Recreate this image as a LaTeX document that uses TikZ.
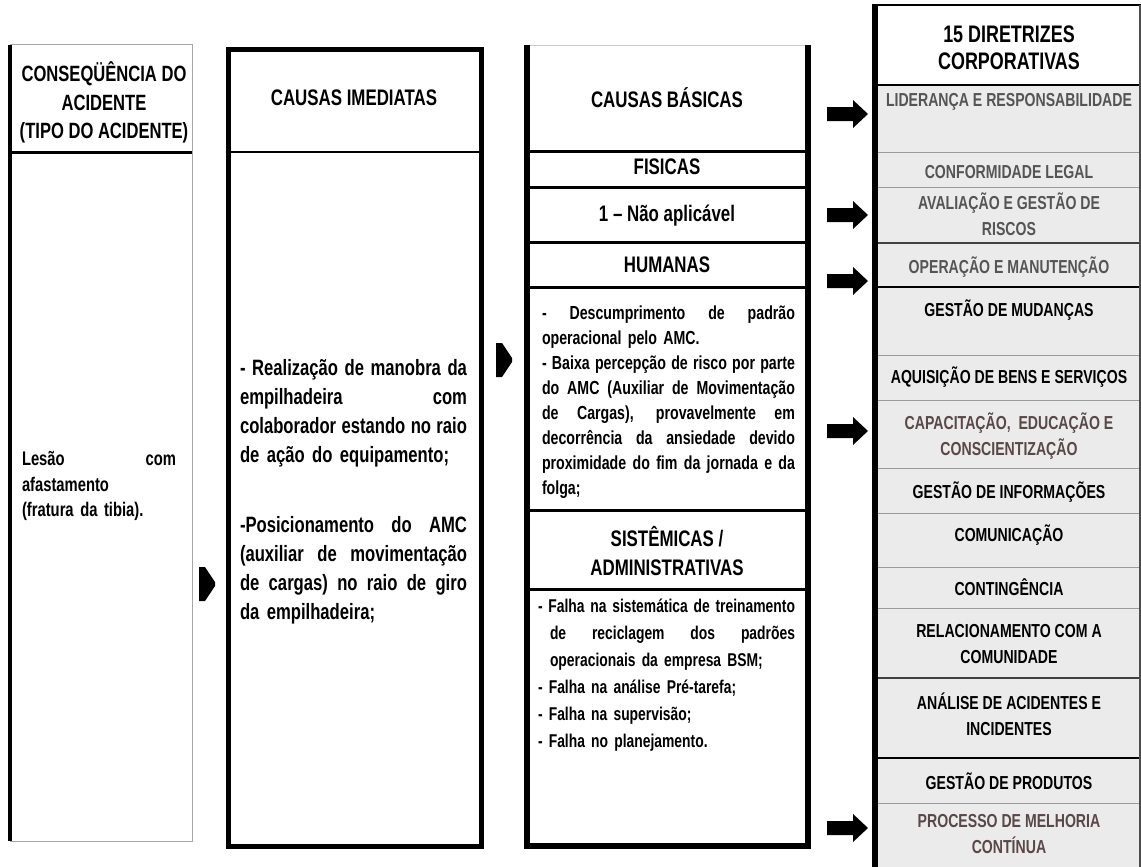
\documentclass[tikz,border=0pt]{standalone}
\usepackage{fontspec}
\setmainfont{Liberation Sans}[FakeStretch=0.75]
\definecolor{rowfill}{HTML}{EBEBEB}
\definecolor{gtext}{HTML}{555555}
\definecolor{rtext}{HTML}{5A4848}
\definecolor{divgray}{HTML}{9A9A9A}
\newcommand\st{\rule[-0.134em]{0pt}{0.85em}}
% justified line of a given width (spaces stretch equally)
\newcommand\jsp{\spaceskip=\fontdimen2\font plus 1fil minus 0.08em\relax
  \xspaceskip=\fontdimen2\font plus 1fil minus 0.08em\relax}
\newcommand\jl[2]{\leavevmode\hbox to #1{\jsp #2}}
\newcommand\jli[2]{\leavevmode\hbox to #1{\jsp\hskip 12pt #2}}
\begin{document}
\begin{tikzpicture}[x=1pt,y=-1pt,
  hd/.style={inner sep=0pt, align=center, font=\bfseries\fontsize{22.5}{28.5}\selectfont},
  rw/.style={inner sep=0pt, align=center, font=\bfseries\fontsize{18.8}{26}\selectfont},
  bd/.style={inner sep=0pt, align=left, text width=#1, font=\bfseries\fontsize{18.9}{25}\selectfont},
  bigarrow/.pic={\fill[black] (-41,-7) -- (-15,-7) -- (-15,-14) -- (0,0) -- (-15,14) -- (-15,7) -- (-41,7) -- cycle;},
  smallarrow/.pic={\fill[black] (-16,-17) -- (-10,-17) -- (0,-2) -- (0,2) -- (-10,17) -- (-16,17) -- cycle;},
  thin div/.style={divgray, line width=1pt},
  dark div/.style={black!75, line width=1.6pt}]
\useasboundingbox (0,0) rectangle (1141,867);
\fill[white] (0,0) rectangle (1141,867);

% ---------- column 1 ----------
\draw[gray!70, line width=1pt] (10,45) rectangle (192,841);
\draw[line width=4pt] (10,45) -- (10,841);
\draw[line width=3pt] (10,152) -- (192,152);
\node[hd, font=\bfseries\fontsize{22.1}{28.5}\selectfont] (c1h) at (104,102.5) {\st CONSEQÜÊNCIA DO\\\st ACIDENTE\\\st (TIPO DO ACIDENTE)};
\node[bd=154pt, font=\bfseries\fontsize{19.7}{25.5}\selectfont] (c1b) at (99,486) {\jl{154pt}{Lesão com}\\afastamento\\(fratura da tibia).};

% ---------- column 2 ----------
\draw[line width=5pt] (228,49.5) rectangle (481.5,846.5);
\draw[line width=2.5pt] (228,152) -- (481.5,152);
\node[hd] (c2h) at (354,99) {\st CAUSAS IMEDIATAS};
\node[bd=227pt, font=\bfseries\fontsize{22.2}{29}\selectfont] (c2b) at (353.5,491.5)
 {\jl{227pt}{- Realização de manobra da}\\
  \jl{227pt}{empilhadeira com}\\
  \jl{227pt}{colaborador estando no raio}\\
  de ação do equipamento;\\[41pt]
  \jl{227pt}{-Posicionamento do AMC}\\
  \jl{227pt}{(auxiliar de movimentação}\\
  \jl{227pt}{de cargas) no raio de giro}\\
  da empilhadeira;};

% ---------- column 3 ----------
\draw[gray!40, line width=0.8pt] (527,45) -- (807.5,45);
\draw[line width=6pt] (527,45) -- (527,846) -- (807.5,846) -- (807.5,45);
\foreach \yy in {151,187,242,287,510,589}
  \draw[line width=3pt] (527,\yy) -- (807.5,\yy);
\node[hd] (c3h) at (667,99) {\st CAUSAS BÁSICAS};
\node[hd] (fis) at (667,168) {\st FISICAS};
\node[hd] (nap) at (667,216) {\st 1 – Não aplicável};
\node[hd] (hum) at (667,266) {\st HUMANAS};
\node[bd=253pt] (humb) at (668.5,402)
 {\jl{253pt}{- Descumprimento de padrão}\\
  operacional pelo AMC.\\
  \jl{253pt}{- Baixa percepção de risco por parte}\\
  \jl{253pt}{do AMC (Auxiliar de Movimentação}\\
  \jl{253pt}{de Cargas), provavelmente em}\\
  \jl{253pt}{decorrência da ansiedade devido}\\
  \jl{253pt}{proximidade do fim da jornada e da}\\
  folga;};
\node[hd] (sis) at (667,552.5) {\st SISTÊMICAS /\\\st ADMINISTRATIVAS};
\node[bd=257pt, font=\bfseries\fontsize{18.5}{27}\selectfont] (sisb) at (666.5,675.5)
 {\jl{257pt}{- Falha na sistemática de treinamento}\\
  \jli{257pt}{de reciclagem dos padrões}\\
  \hspace*{12pt}operacionais da empresa BSM;\\
  - Falha na análise Pré-tarefa;\\
  - Falha na supervisão;\\
  - Falha no planejamento.};

% ---------- column 4 ----------
\fill[rowfill] (878,85) rectangle (1140,867);
\foreach \yy in {152,187,355,400,468,513,567,608,803}
  \draw[thin div] (878,\yy) -- (1140,\yy);
\foreach \yy in {243,678}
  \draw[dark div] (878,\yy) -- (1140,\yy);
\draw[black, line width=2.2pt] (878,287) -- (1140,287);
\draw[black, line width=2.2pt] (878,758) -- (1140,758);
\draw[black, line width=2.5pt] (878,85) -- (1140,85);
\draw[line width=2pt] (875,5) -- (1141,5);
\draw[black!70, line width=1.2pt] (1140,5) -- (1140,867);
\draw[line width=6pt] (875,4) -- (875,867);

\node[hd, font=\bfseries\fontsize{23.9}{27}\selectfont] (dh) at (1009,49) {\st 15 DIRETRIZES\\\st CORPORATIVAS};
\node[rw, text=gtext] (d1) at (1009,102) {\st LIDERANÇA E RESPONSABILIDADE};
\node[rw, text=gtext] (d2) at (1009,173) {\st CONFORMIDADE LEGAL};
\node[rw, text=gtext] (d3) at (1009,215.5) {\st AVALIAÇÃO E GESTÃO DE\\\st RISCOS};
\node[rw, text=gtext] (d4) at (1009,267) {\st OPERAÇÃO E MANUTENÇÃO};
\node[rw] (d5) at (1009,310) {\st GESTÃO DE MUDANÇAS};
\node[rw] (d6) at (1009,377) {\st AQUISIÇÃO DE BENS E SERVIÇOS};
\node[rw, text=rtext] (d7) at (1009,436.5) {\st CAPACITAÇÃO,\ \ EDUCAÇÃO E\\\st CONSCIENTIZAÇÃO};
\node[rw] (d8) at (1009,492) {\st GESTÃO DE INFORMAÇÕES};
\node[rw] (d9) at (1009,535) {\st COMUNICAÇÃO};
\node[rw] (d10) at (1009,588) {\st CONTINGÊNCIA};
\node[rw] (d11) at (1009,645) {\st RELACIONAMENTO COM A\\\st COMUNIDADE};
\node[rw] (d12) at (1009,715.5) {\st ANÁLISE DE ACIDENTES E\\\st INCIDENTES};
\node[rw] (d13) at (1009,782) {\st GESTÃO DE PRODUTOS};
\node[rw, text=rtext] (d14) at (1009,835) {\st PROCESSO DE MELHORIA\\\st CONTÍNUA};

% ---------- arrows ----------
\pic (ar1) at (868,114) {bigarrow};
\pic (ar2) at (868,215) {bigarrow};
\pic (ar3) at (868,281) {bigarrow};
\pic (ar4) at (868,431) {bigarrow};
\pic (ar5) at (868,828) {bigarrow};
\pic (sa1) at (215,584) {smallarrow};
\pic (sa2) at (512,360) {smallarrow};
\end{tikzpicture}
\end{document}
